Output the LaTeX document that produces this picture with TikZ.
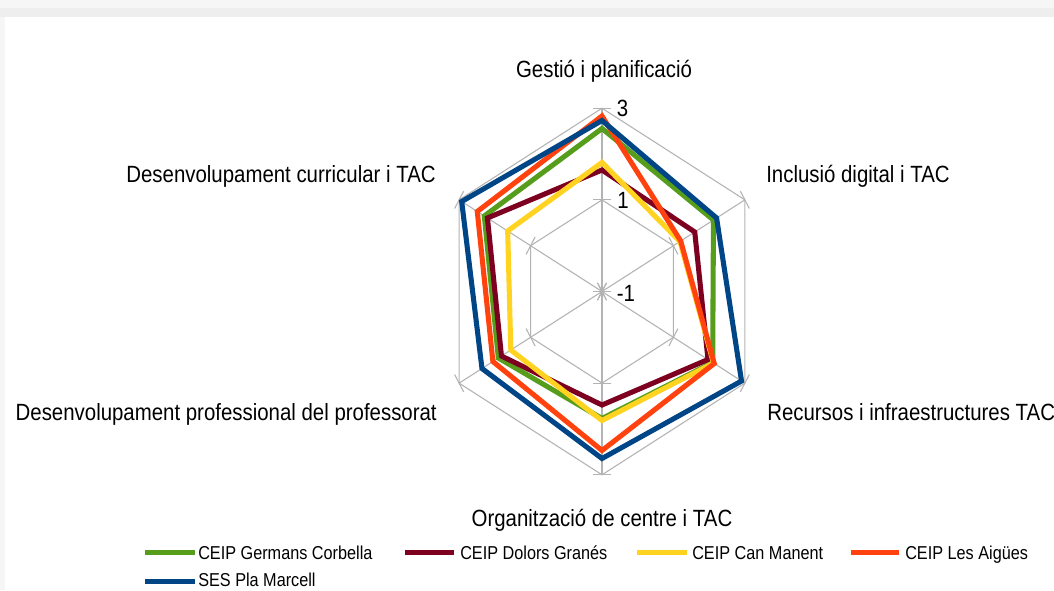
\documentclass[tikz,border=0pt]{standalone}
\usepackage{fontspec}
\setmainfont{Liberation Sans}[FakeStretch=0.87]
\definecolor{sgreen}{HTML}{579D1C}
\definecolor{sdred}{HTML}{7E0021}
\definecolor{syellow}{HTML}{FFD320}
\definecolor{sorange}{HTML}{FF420E}
\definecolor{sblue}{HTML}{004586}
\definecolor{gridgray}{HTML}{B3B3B3}
\definecolor{bandA}{HTML}{F6F6F6}
\definecolor{bandB}{HTML}{EEEEEE}
\tikzset{
  gridline/.style={draw=gridgray, line width=0.8pt},
  series/.style={line width=3.8pt, line join=miter},
  lbl/.style={font=\fontsize{17.6}{20}\selectfont, inner sep=0pt, text=black},
  leg/.style={font=\fontsize{14}{16}\selectfont, inner sep=0pt, text=black},
  legline/.style={line width=3.8pt},
}
\begin{document}
\begin{tikzpicture}[x=0.75pt, y=-0.75pt]
\useasboundingbox (0,0) rectangle (1054,590);
\clip (0,0) rectangle (1054,590);
% background
\fill[bandA] (0,0) rectangle (1054,590);
\fill[bandB] (0,8) rectangle (1054,17);
\fill[white] (5,17) rectangle (1054,590);
\coordinate (C) at (602,291.5);
\begin{scope}[shift={(C)}, x=0.675pt, y=0.75pt]
  % axes
  \foreach \a in {90,30,-30,-90,-150,150}
    \draw[gridline] (0,0) -- (\a:183.3);
  % rings
  \foreach \R in {91.6,183.3}
    \draw[gridline] (90:\R) -- (30:\R) -- (-30:\R) -- (-90:\R) -- (-150:\R) -- (150:\R) -- cycle;
  % ticks
  \foreach \R in {0,91.6,183.3}
    \foreach \a in {90,30,-30,-90,-150,150}
      \draw[gridline] (\a:\R) ++(\a+90:10) -- ++(\a-90:20);
  % series
  \draw[series, sgreen]  (90:163) -- (30:143) -- (-30:142) -- (-90:127) -- (-150:133) -- (150:151) -- cycle;
  \draw[series, sdred]   (90:121.5) -- (30:119) -- (-30:136) -- (-90:113.5) -- (-150:129) -- (150:147) -- cycle;
  \draw[series, syellow] (90:129) -- (30:100) -- (-30:143) -- (-90:129) -- (-150:117) -- (150:121) -- cycle;
  \draw[series, sorange] (90:175.5) -- (30:101) -- (-30:144) -- (-90:159) -- (-150:140) -- (150:160) -- cycle;
  \draw[series, sblue]   (90:171) -- (30:147) -- (-30:179) -- (-90:167) -- (-150:154) -- (150:180) -- cycle;
\end{scope}
% tick labels
\node[lbl] (v3) at (622.5,108.3) {3};
\node[lbl] (v1) at (623,200.5) {1};
\node[lbl] (vm1) at (626,293) {-1};
% axis labels
\node[lbl, anchor=base] (l0) at (604,77.7) {Gestió i planificació};
\node[lbl, anchor=base west] (l1) at (766,182.7) {Inclusió digital i TAC};
\node[lbl, anchor=base west] (l2) at (767,420.5) {Recursos i infraestructures TAC};
\node[lbl, anchor=base] (l3) at (602,526) {Organització de centre i TAC};
\node[lbl, anchor=base east] (l4) at (437,420.5) {Desenvolupament professional del professorat};
\node[lbl, anchor=base east] (l5) at (436,182.7) {Desenvolupament curricular i TAC};
% legend
\coordinate (g1) at (145,552.7); \coordinate (g2) at (195,552.7);
\coordinate (d1) at (405,552.7); \coordinate (d2) at (454,552.7);
\coordinate (y1) at (637,552.7); \coordinate (y2) at (687,552.7);
\coordinate (o1) at (851,552.7); \coordinate (o2) at (899,552.7);
\coordinate (b1) at (145,581.5); \coordinate (b2) at (195,581.5);
\draw[legline, sgreen] (g1) -- (g2);
\draw[legline, sdred] (d1) -- (d2);
\draw[legline, syellow] (y1) -- (y2);
\draw[legline, sorange] (o1) -- (o2);
\draw[legline, sblue] (b1) -- (b2);
\node[leg, anchor=base west] (tg) at (198,559.3) {CEIP Germans Corbella};
\node[leg, anchor=base west] (td) at (460,559.3) {CEIP Dolors Granés};
\node[leg, anchor=base west] (ty) at (692,559.3) {CEIP Can Manent};
\node[leg, anchor=base west] (to) at (905,559.3) {CEIP Les Aigües};
\node[leg, anchor=base west] (tb) at (198,586.5) {SES Pla Marcell};
\end{tikzpicture}
\end{document}
